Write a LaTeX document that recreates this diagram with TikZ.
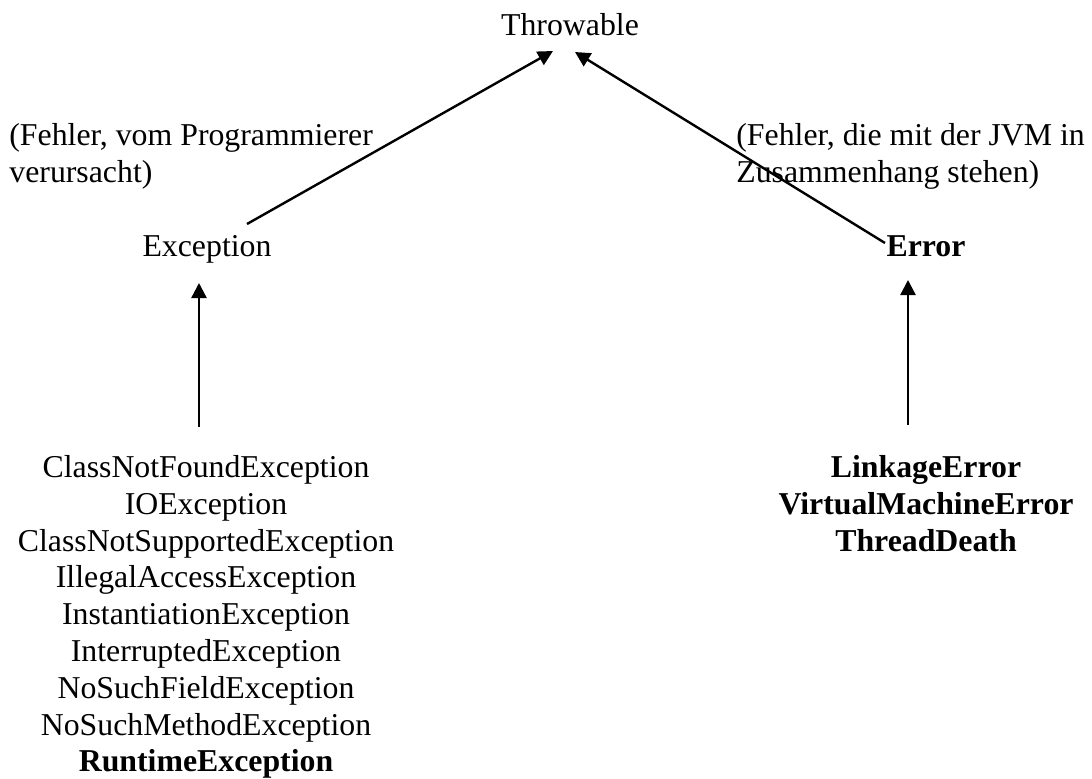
\documentclass[tikz,border=0pt]{standalone}
\usepackage{fontspec}
\setmainfont{Liberation Serif}
\usepackage{tikz}
\usetikzlibrary{arrows.meta,calc,positioning}

\begin{document}
\begin{tikzpicture}
[x=0.5pt,y=-0.5pt,
 arr/.style = {-{Triangle[length=7.5pt,width=7.5pt]}, line width = 1.2pt},
 txt/.style = {inner sep = 0pt, font = \fontsize{15.9pt}{18.4pt}\selectfont},
 list/.style = {txt, align = center, anchor = north},
 note/.style = {txt, align = left, anchor = north west},]
\useasboundingbox (0,0) rectangle (1092,778);
\node (throwable) at (570,35)[txt,anchor=base] {Throwable};
\node (exception) at (207,256)[txt,anchor=base] {Exception};
\node (error) at (926,256)[txt,anchor=base] {\textbf{Error}};
\node (noteExc) at (9,123)[note] {(Fehler, vom Programmierer\\verursacht)};
\node (noteErr) at (736,123)[note] {(Fehler, die mit der JVM in\\Zusammenhang stehen)};
\node (excList) at (206,455)[list] {ClassNotFoundException\\IOException\\ClassNotSupportedException\\IllegalAccessException\\InstantiationException\\InterruptedException\\NoSuchFieldException\\NoSuchMethodException\\\textbf{RuntimeException}};
\node (errList) at (926,455)[list,font=\fontsize{15.9pt}{18.4pt}\selectfont\bfseries] {LinkageError\\VirtualMachineError\\ThreadDeath};
% arrows
\draw[arr] ($(exception.base)+(40,-32)$) -- ($(throwable.base)+(-17,16)$);
\draw[arr] ($(error.base)+(-41,-13)$) -- ($(throwable.base)+(5,17)$);
\draw[arr] ($(excList.north)+(-7,-28)$) -- ($(exception.base)+(-8,27)$);
\draw[arr] ($(errList.north)+(-18,-30)$) -- ($(error.base)+(-18,24)$);
\end{tikzpicture}
\end{document}
